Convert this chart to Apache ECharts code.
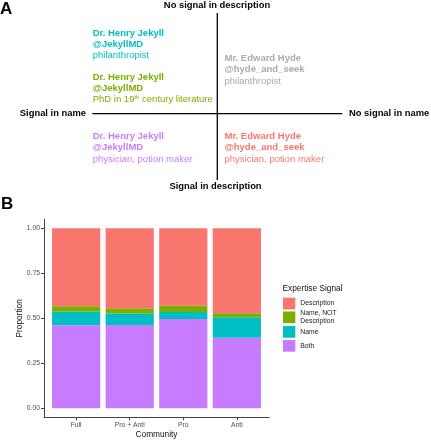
<!DOCTYPE html>
<html>
<head>
<meta charset="utf-8">
<script src="https://cdn.jsdelivr.net/npm/echarts@6/dist/echarts.min.js"></script>
<style>
html,body{margin:0;padding:0;background:#fff;}
#chart{width:431px;height:440px;}
</style>
</head>
<body>
<div id="chart"></div>
<script>
// ---- Panel B data ----
const categories = ['Full', 'Pro + Anti', 'Pro', 'Anti'];
const both = [0.461, 0.463, 0.496, 0.392];
const nameOnly = [0.076, 0.063, 0.039, 0.114];
const nameNotDesc = [0.030, 0.030, 0.035, 0.022];
const description = [0.433, 0.444, 0.430, 0.472];
const yTicks = [0, 0.25, 0.5, 0.75, 1];
const seriesNames = ['Description', 'Name, NOT\nDescription', 'Name', 'Both'];
const seriesColors = ['#F8766D', '#7CAE00', '#00BFC4', '#C77CFF'];

// ---- Panel A texts ----
const axisLabelsA = ['No signal in description', 'Signal in name', 'No signal in name', 'Signal in description'];
const quadTexts = [
  { lines: ['Dr. Henry Jekyll', '@JekyllMD', 'philanthropist'], color: '#00BFC4' },
  { lines: ['Dr. Henry Jekyll', '@JekyllMD', 'PhD in 19|th| century literature'], color: '#7CAE00' },
  { lines: ['Mr. Edward Hyde', '@hyde_and_seek', 'philanthropist'], color: '#ABABAB' },
  { lines: ['Dr. Henry Jekyll', '@JekyllMD', 'physician, potion maker'], color: '#C77CFF' },
  { lines: ['Mr. Edward Hyde', '@hyde_and_seek', 'physician, potion maker'], color: '#F8766D' }
];

const FONT = '"Liberation Sans", Arial, sans-serif';
const chart = echarts.init(document.getElementById('chart'), null, { renderer: 'canvas' });

const quadPos = [
  { x: 92.7, y: 33 },
  { x: 92.7, y: 77 },
  { x: 224.5, y: 58.3 },
  { x: 92.7, y: 136.3 },
  { x: 224.5, y: 136.3 }
];
const lineStep = 11.3;
const QF = 9.5;

const graphics = [];
graphics.push({ type: 'text', left: 0, top: 1, style: { text: 'A', font: 'bold 17px ' + FONT, fill: '#000' } });
graphics.push({ type: 'text', left: 1, top: 196, style: { text: 'B', font: 'bold 17px ' + FONT, fill: '#000' } });
graphics.push({ type: 'line', shape: { x1: 217.3, y1: 13, x2: 217.3, y2: 180 }, style: { stroke: '#000', lineWidth: 1.3 } });
graphics.push({ type: 'line', shape: { x1: 92.3, y1: 113.7, x2: 342.3, y2: 113.7 }, style: { stroke: '#000', lineWidth: 1.3 } });
const boldA = 'bold 9.4px ' + FONT;
graphics.push({ type: 'text', x: 217, y: 5, style: { text: axisLabelsA[0], font: boldA, fill: '#000', align: 'center', verticalAlign: 'middle' } });
graphics.push({ type: 'text', x: 86, y: 113.5, style: { text: axisLabelsA[1], font: boldA, fill: '#000', align: 'right', verticalAlign: 'middle' } });
graphics.push({ type: 'text', x: 349, y: 113.5, style: { text: axisLabelsA[2], font: boldA, fill: '#000', align: 'left', verticalAlign: 'middle' } });
graphics.push({ type: 'text', x: 215.5, y: 186, style: { text: axisLabelsA[3], font: boldA, fill: '#000', align: 'center', verticalAlign: 'middle' } });

quadTexts.forEach(function (q, qi) {
  q.lines.forEach(function (ln, li) {
    const isBold = li < 2;
    const y = quadPos[qi].y + li * lineStep;
    if (ln.indexOf('|') >= 0) {
      const parts = ln.split('|');
      graphics.push({
        type: 'text', x: quadPos[qi].x, y: y,
        style: {
          text: '{n|' + parts[0] + '}{s|' + parts[1] + '}{n|' + parts[2] + '}',
          align: 'left', verticalAlign: 'middle',
          rich: {
            n: { fontSize: QF, fontFamily: FONT, fill: q.color, color: q.color, lineHeight: 11 },
            s: { fontSize: 6, fontFamily: FONT, fill: q.color, color: q.color, verticalAlign: 'top', lineHeight: 11, padding: [0, 0, 4, 0] }
          }
        }
      });
    } else {
      graphics.push({
        type: 'text', x: quadPos[qi].x, y: y,
        style: { text: ln, font: (isBold ? 'bold ' : '') + QF + 'px ' + FONT, fill: q.color, align: 'left', verticalAlign: 'middle' }
      });
    }
  });
});

const stackData = [description, nameNotDesc, nameOnly, both];
const drawOrder = [3, 2, 1, 0]; // bottom to top: Both, Name, Name NOT Desc, Description

const series = drawOrder.map(function (k) {
  return {
    name: seriesNames[k],
    type: 'bar',
    stack: 'total',
    xAxisIndex: 1,
    yAxisIndex: 1,
    barWidth: '90%',
    data: stackData[k],
    itemStyle: { color: seriesColors[k] },
    emphasis: { disabled: true },
    animation: false
  };
});

const legendTops = [297.7, 311.3, 326, 340];
const legends = seriesNames.map(function (n, k) {
  return {
    data: [{ name: n, icon: 'rect' }],
    orient: 'vertical',
    left: 283,
    top: legendTops[k] - (k === 1 ? 2 : 0),
    padding: 0,
    itemWidth: 12.3,
    itemHeight: 11.7,
    selectedMode: false,
    textStyle: { fontSize: 6.8, fontFamily: FONT, color: '#222', lineHeight: 8 }
  };
});

// plot spans 0.4 .. 4.6 category units between x=44 and x=269
const unitPx = (269 - 44) / 4.2;
const axisFont = { fontSize: 6.8, fontFamily: FONT, color: '#4d4d4d' };

chart.setOption({
  animation: false,
  backgroundColor: '#fff',
  title: {
    text: 'Expertise Signal', left: 282.5, top: 285, padding: 0,
    textStyle: { fontSize: 8.3, fontWeight: 'normal', fontFamily: FONT, color: '#111' }
  },
  legend: legends,
  grid: [
    { left: 44, right: 162, top: 219.3, bottom: 22.7, containLabel: false },
    { left: 44 + 0.1 * unitPx, right: 162 + 0.1 * unitPx, top: 219.3, bottom: 22.7, containLabel: false }
  ],
  xAxis: [
    {
      gridIndex: 0, type: 'value', min: 0.4, max: 4.6,
      name: 'Community', nameLocation: 'middle', nameGap: 13, nameMoveOverlap: false,
      nameTextStyle: { fontSize: 8.3, fontFamily: FONT, color: '#111' },
      axisLine: { show: true, onZero: false, lineStyle: { color: '#444', width: 1 } },
      axisTick: { show: true, customValues: [1, 2, 3, 4], length: 3, lineStyle: { color: '#444' } },
      axisLabel: Object.assign({
        customValues: [1, 2, 3, 4], margin: 4,
        formatter: function (v) { return categories[Math.round(v) - 1]; }
      }, axisFont),
      splitLine: { show: false }
    },
    {
      gridIndex: 1, type: 'category', data: categories, show: false
    }
  ],
  yAxis: [
    {
      gridIndex: 0, type: 'value', min: -0.05, max: 1.05,
      name: 'Proportion', nameLocation: 'middle', nameGap: 20, nameRotate: 90, nameMoveOverlap: false,
      nameTextStyle: { fontSize: 8.3, fontFamily: FONT, color: '#111' },
      axisLine: { show: true, onZero: false, lineStyle: { color: '#444', width: 1 } },
      axisTick: { show: true, customValues: yTicks, length: 3, lineStyle: { color: '#444' } },
      axisLabel: Object.assign({
        customValues: yTicks, margin: 4,
        formatter: function (v) { return v.toFixed(2); }
      }, axisFont),
      splitLine: { show: false }
    },
    {
      gridIndex: 1, type: 'value', min: -0.05, max: 1.05, show: false
    }
  ],
  series: series,
  graphic: graphics
});
</script>
</body>
</html>
